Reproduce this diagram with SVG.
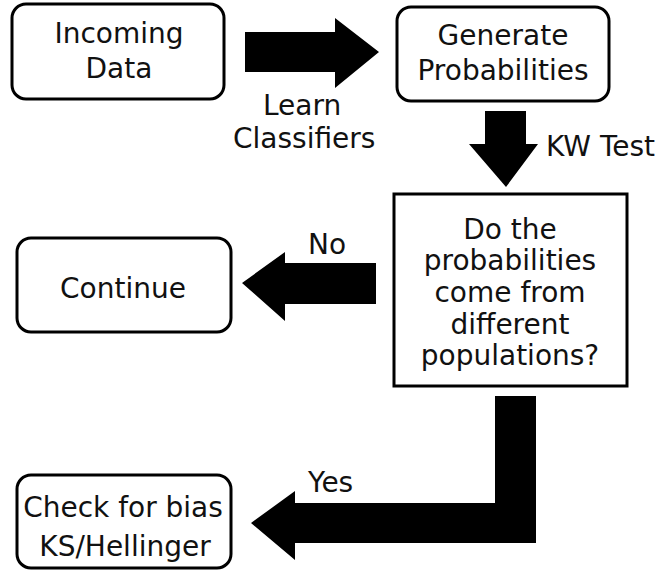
<svg xmlns="http://www.w3.org/2000/svg" width="665" height="571" viewBox="0 0 665 571">
<style>
.box{fill:#fff;stroke:#000;stroke-width:3}
.t{font-family:"DejaVu Sans",sans-serif;font-size:28px;fill:#111;text-anchor:middle}
.lbl{font-family:"DejaVu Sans",sans-serif;font-size:28px;fill:#111}
.arr{fill:#000}
</style>
<rect width="665" height="571" fill="#fff"/>
<g id="connectors">
<polygon class="arr" points="245,32 335,32 335,18 379,52 335,88 335,72 245,72"/>
<polygon class="arr" points="485,111 526,111 526,144 538,144 506,187 469,144 485,144"/>
<polygon class="arr" points="376,263 376,304 285,304 285,321 242,283 285,252 285,263"/>
<polygon class="arr" points="495,396 536,396 536,543 295,543 295,560 251,523 295,491 295,503 495,503"/>
<text class="lbl" x="263" y="115">Learn</text>
<text class="lbl" x="233" y="148">Classifiers</text>
<text class="lbl" x="546" y="156">KW Test</text>
<text class="lbl" x="308" y="254">No</text>
<text class="lbl" x="308" y="492">Yes</text>
</g>
<g id="incoming">
<rect class="box" x="12" y="4" width="212" height="95" rx="14"/>
<text class="t" x="119" y="43">Incoming</text>
<text class="t" x="119" y="78">Data</text>
</g>
<g id="generate">
<rect class="box" x="397" y="7" width="212" height="94" rx="14"/>
<text class="t" x="503" y="45">Generate</text>
<text class="t" x="503" y="80">Probabilities</text>
</g>
<g id="decision">
<rect class="box" x="394" y="194" width="233" height="192"/>
<text class="t" x="510" y="239">Do the</text>
<text class="t" x="510" y="270">probabilities</text>
<text class="t" x="510" y="302">come from</text>
<text class="t" x="510" y="334">different</text>
<text class="t" x="510" y="365">populations?</text>
</g>
<g id="continue">
<rect class="box" x="17" y="238" width="214" height="94" rx="14"/>
<text class="t" x="123" y="298">Continue</text>
</g>
<g id="check">
<rect class="box" x="17" y="475" width="214" height="93" rx="14"/>
<text class="t" x="123" y="517">Check for bias</text>
<text class="t" x="125" y="556">KS/Hellinger</text>
</g>
</svg>
